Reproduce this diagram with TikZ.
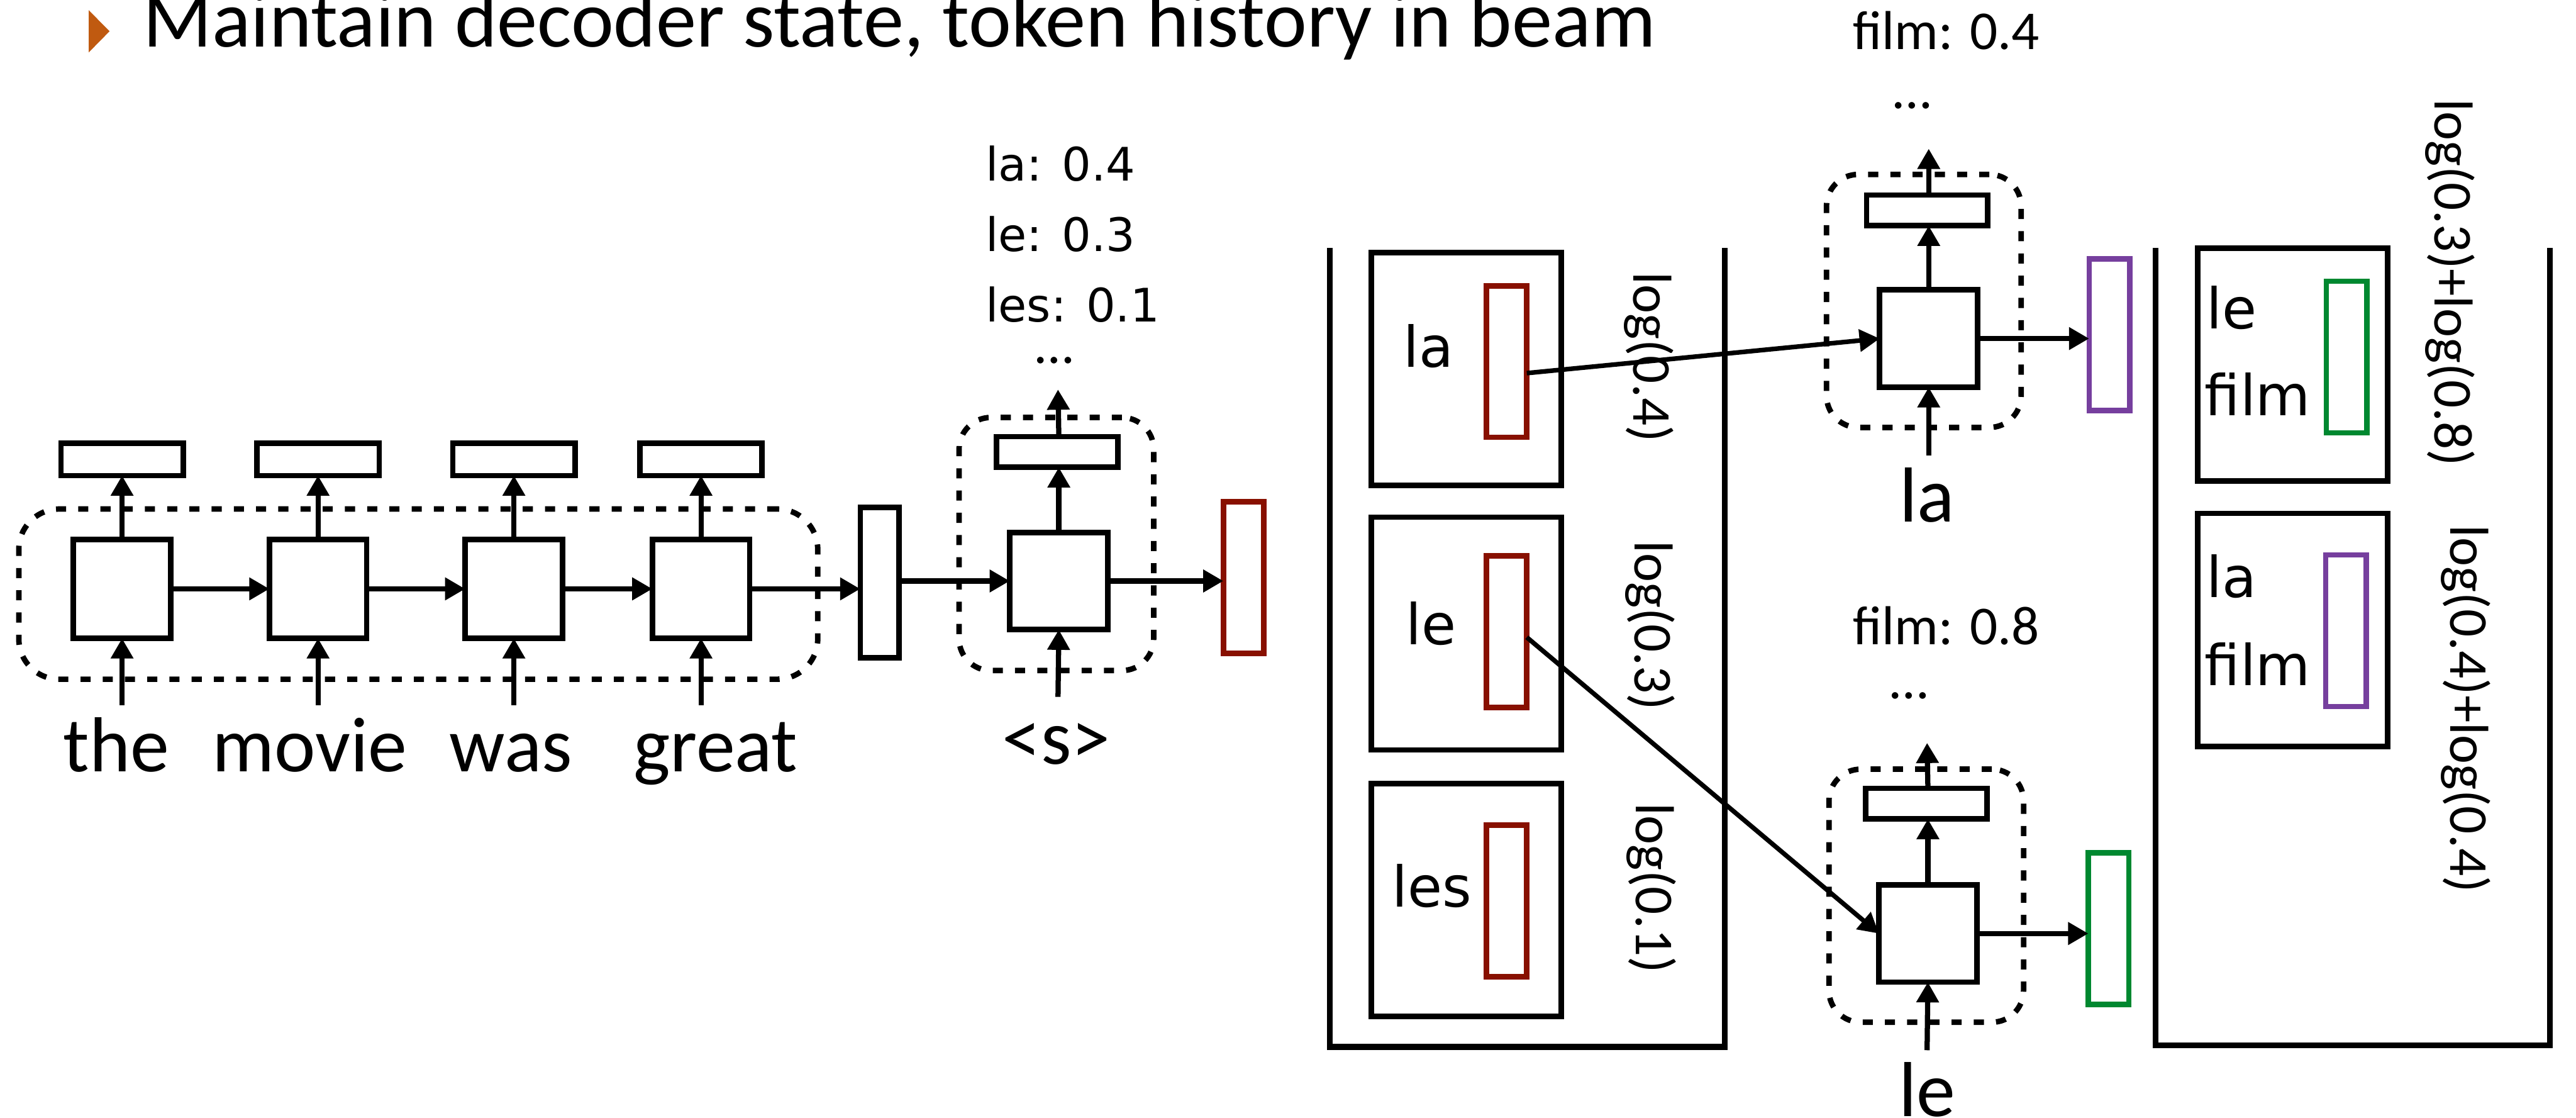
\documentclass[tikz,border=0pt]{standalone}
\usepackage{fontspec}
\setmainfont{Carlito}
\newfontfamily\vfont{DejaVu Sans}
\usetikzlibrary{arrows.meta}
\definecolor{bulletorange}{RGB}{192,90,16}
\definecolor{beamred}{RGB}{136,16,0}
\definecolor{beamgreen}{RGB}{0,136,48}
\definecolor{beampurple}{RGB}{118,63,158}
\begin{document}
\begin{tikzpicture}[x=0.02cm,y=-0.02cm,
  every node/.style={inner sep=0pt, outer sep=0pt},
  cellbox/.style={draw, line width=1.9pt, minimum width=1.184cm, minimum height=1.204cm},
  dcellbox/.style={draw, line width=1.9pt, minimum width=1.194cm, minimum height=1.184cm},
  outbox/.style={draw, line width=1.9pt, minimum width=1.488cm, minimum height=0.394cm},
  vecbox/.style={draw, line width=1.9pt, minimum width=0.494cm, minimum height=1.844cm},
  beambox/.style={draw, line width=1.9pt, minimum width=2.314cm, minimum height=2.834cm},
  grp/.style={draw, line width=1.9pt, dash pattern=on 3.5pt off 4.2pt, rounded corners=11pt, minimum width=2.37cm, minimum height=3.08cm},
  arr/.style={line width=1.8pt, -{Triangle[length=7pt,width=7.5pt]}},
  conn/.style={line width=1.6pt, -{Triangle[length=7pt,width=7.5pt]}},
  container/.style={line width=2pt},
  bigtxt/.style={font=\fontsize{27}{32}\selectfont, anchor=base},
  smalltxt/.style={font=\fontsize{19}{23}\selectfont},
  listtxt/.style={font=\vfont\fontsize{16}{20}\selectfont, anchor=base west},
  beamtxt/.style={font=\vfont\fontsize{19.5}{24}\selectfont},
  titletxt/.style={font=\fontsize{28}{33}\selectfont, anchor=base west}
]
\useasboundingbox (0,0) rectangle (1568,680);

% title
\fill[bulletorange] (54,6.2) -- (66.7,19) -- (54,31.9) -- cycle;
\node[titletxt] (title) at (87,28.5) {Maintain decoder state, token history in beam};

% encoder
\node[grp, rounded corners=14pt, minimum width=9.728cm, minimum height=2.072cm] (encgrp) at (254.6,361.5) {};
\foreach \i/\x in {1/74.3,2/193.6,3/312.8,4/426.7}{
  \node[cellbox] (enc\i) at (\x,358.3) {};
  \node[outbox] (eout\i) at (\x,279.5) {};
  \coordinate (ein\i) at (\x,429);
  \draw[arr] (enc\i.north) -- (eout\i.south);
  \draw[arr] (ein\i) -- (enc\i.south);
}
\node[bigtxt] (wthe) at (70.8,469.5) {the};
\node[bigtxt] (wmovie) at (188.4,469.5) {movie};
\node[bigtxt] (wwas) at (311,469.5) {was};
\node[bigtxt] (wgreat) at (435.5,469.5) {great};
\draw[arr] (enc1.east) -- (enc2.west);
\draw[arr] (enc2.east) -- (enc3.west);
\draw[arr] (enc3.east) -- (enc4.west);
\node[draw, line width=1.9pt, minimum width=0.474cm, minimum height=1.834cm] (hfinal) at (535.5,354.5) {};
\draw[arr] (enc4.east) -- (enc4.east -| hfinal.west);

% first decoder step
\node[grp] (dgrp0) at (643,331) {};
\node[dcellbox] (dcell0) at (644.5,353.5) {};
\node[outbox, minimum width=1.474cm, minimum height=0.374cm] (dout0) at (643.5,275) {};
\coordinate (dtop0) at (644,237);
\coordinate (din0) at (644,424);
\draw[arr] (hfinal.east |- dcell0.west) -- (dcell0.west);
\draw[arr] (dcell0.north) -- (dout0.south -| dcell0.north);
\draw[arr] (dout0.north -| dcell0.north) -- (dtop0);
\draw[arr] (din0) -- (dcell0.south);
\node[bigtxt] (ws) at (643,465) {<s>};
\node[vecbox, draw=beamred] (red0) at (757,351.5) {};
\draw[arr] (dcell0.east) -- (dcell0.east -| red0.west);
\node[listtxt] (p1) at (600,110) {la: 0.4};
\node[listtxt] (p2) at (600,153) {le: 0.3};
\node[listtxt] (p3) at (600,195.7) {les: 0.1};
\node[smalltxt, anchor=base] (p4) at (642,221) {…};

% beam 1
\draw[container] (809.5,151) -- (809.5,637) -- (1050,637) -- (1050,151);
\node[beambox] (b1) at (892.5,224.5) {};
\node[beambox] (b2) at (892.5,385.5) {};
\node[beambox] (b3) at (892.5,547.5) {};
\node[vecbox, draw=beamred] (redA) at (917,220) {};
\node[vecbox, draw=beamred] (redB) at (917,384.25) {};
\node[vecbox, draw=beamred] (redC) at (917,548.25) {};
\node[beamtxt, anchor=base] (tla) at (869.6,223.5) {la};
\node[beamtxt, anchor=base] (tle) at (871,392) {le};
\node[beamtxt, anchor=base] (tles) at (871.5,552) {les};
\node[smalltxt, anchor=base, rotate=-90] (s1) at (994.5,217.3) {log(0.4)};
\node[smalltxt, anchor=base, rotate=-90] (s2) at (995.2,380.6) {log(0.3)};
\node[smalltxt, anchor=base, rotate=-90] (s3) at (996,540.4) {log(0.1)};

% decoder A (la)
\node[grp] (dgrpA) at (1171,183.1) {};
\node[dcellbox] (dcellA) at (1174,206) {};
\node[outbox, minimum width=1.474cm, minimum height=0.374cm] (doutA) at (1173,128) {};
\coordinate (dtopA) at (1174,90.5);
\coordinate (dinA) at (1174,277);
\draw[arr] (dcellA.north) -- (doutA.south -| dcellA.north);
\draw[arr] (doutA.north -| dcellA.north) -- (dtopA);
\draw[arr] (dinA) -- (dcellA.south);
\node[bigtxt] (wla) at (1173,317.5) {la};
\node[vecbox, draw=beampurple] (purA) at (1284,203.75) {};
\draw[arr] (dcellA.east) -- (dcellA.east -| purA.west);
\node[smalltxt, anchor=base west] (fA) at (1128,30.2) {film: 0.4};
\node[smalltxt, anchor=base] (dA) at (1164,66) {…};

% decoder B (le)
\node[grp] (dgrpB) at (1172.5,545) {};
\node[dcellbox] (dcellB) at (1173.5,568) {};
\node[outbox, minimum width=1.474cm, minimum height=0.374cm] (doutB) at (1172.5,489) {};
\coordinate (dtopB) at (1173,452);
\coordinate (dinB) at (1173,639);
\draw[arr] (dcellB.north) -- (doutB.south -| dcellB.north);
\draw[arr] (doutB.north -| dcellB.north) -- (dtopB);
\draw[arr] (dinB) -- (dcellB.south);
\node[bigtxt] (wle) at (1173,679.3) {le};
\node[vecbox, draw=beamgreen] (grnB) at (1283.5,565) {};
\draw[arr] (dcellB.east) -- (dcellB.east -| grnB.west);
\node[smalltxt, anchor=base west] (fB) at (1128,392) {film: 0.8};
\node[smalltxt, anchor=base] (dB) at (1162,425) {…};

% beam connectors
\draw[conn] ([yshift=-4pt]redA.east) -- (dcellA.west);
\draw[conn] ([yshift=-2pt]redB.east) -- (dcellB.west);

% beam 2
\draw[container] (1312,151) -- (1312,636) -- (1552,636) -- (1552,151);
\node[beambox] (c1) at (1395.5,221.8) {};
\node[beambox] (c2) at (1395.5,383.25) {};
\node[vecbox, draw=beamgreen] (grnC) at (1428.3,217.25) {};
\node[vecbox, draw=beampurple] (purC) at (1428,383.75) {};
\node[beamtxt, anchor=base west] (u1) at (1343,200) {le};
\node[beamtxt, anchor=base west] (u2) at (1342,252.7) {film};
\node[beamtxt, anchor=base west] (u3) at (1343,363.6) {la};
\node[beamtxt, anchor=base west] (u4) at (1342,417) {film};
\node[smalltxt, anchor=base, rotate=-90] (s4) at (1482,172) {log(0.3)+log(0.8)};
\node[smalltxt, anchor=base, rotate=-90] (s5) at (1491.6,431.4) {log(0.4)+log(0.4)};
\end{tikzpicture}
\end{document}
